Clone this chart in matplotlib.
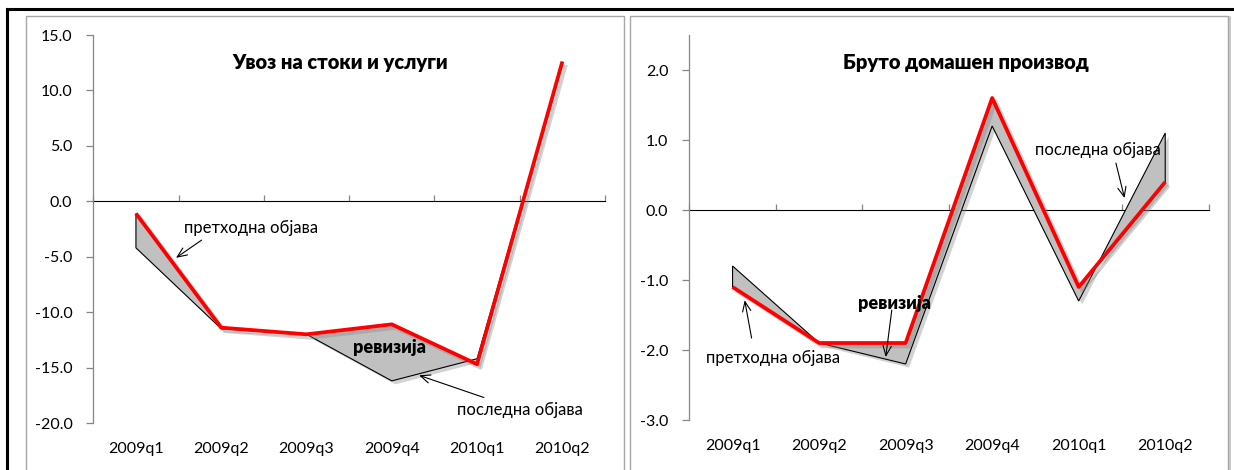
import numpy as np
import matplotlib
matplotlib.use("Agg")
import matplotlib.pyplot as plt
from matplotlib import patheffects as pe
from matplotlib.patches import Rectangle
from matplotlib.lines import Line2D

plt.rcParams['font.family'] = ['Lato', 'DejaVu Sans']

quarters = ['2009q1', '2009q2', '2009q3', '2009q4', '2010q1', '2010q2']

# Imports of goods and services
imports_previous = [-1.1, -11.4, -12.0, -11.1, -14.7, 12.6]
imports_latest = [-4.2, -11.5, -12.0, -16.2, -14.2, 12.6]

# Gross domestic product
gdp_previous = [-1.1, -1.9, -1.9, 1.6, -1.1, 0.4]
gdp_latest = [-0.8, -1.9, -2.2, 1.2, -1.3, 1.1]

W, H = 1234, 470
fig = plt.figure(figsize=(W / 100, H / 100), dpi=100)

GRAY = '#868686'
FILL = '#C0C0C0'


def fx(px):
    return px / W


def fy(py):
    return 1 - py / H


# outer frame and panel borders
fig.add_artist(Line2D([fx(7), fx(7)], [fy(9), fy(475)], color='black', lw=2.2))
fig.add_artist(Line2D([fx(7), fx(1240)], [fy(9), fy(9)], color='black', lw=2.2))
for x0, x1 in [(26, 624), (630, 1228)]:
    fig.add_artist(Rectangle((fx(x0), fy(480)), fx(x1 - x0), fy(16) - fy(480),
                             fill=False, edgecolor='#A6A6A6', lw=1.0))
fig.add_artist(Line2D([fx(1229.5), fx(1229.5)], [fy(17), fy(475)], color='#BFBFBF', lw=1.2))


def panel(rect, prev, latest, ylim, step, title, title_xy, notes):
    ax = fig.add_axes(rect)
    x = np.arange(1, len(quarters) + 1)
    ymin, ymax = ylim
    ax.set_xlim(0.5, len(quarters) + 0.5)
    ax.set_ylim(ymin, ymax)
    ax.patch.set_alpha(0)

    for s in ['top', 'right', 'bottom']:
        ax.spines[s].set_visible(False)
    ax.spines['left'].set_color(GRAY)
    ax.spines['left'].set_linewidth(0.9)

    ax.set_yticks(np.arange(np.ceil(ymin / step) * step, ymax + 1e-9, step))
    ax.yaxis.set_major_formatter(plt.FormatStrFormatter('%.1f'))
    ax.tick_params(axis='y', direction='out', length=5, width=0.9, color=GRAY,
                   pad=10, labelsize=11.5, labelcolor='black')

    ax.set_xticks(x)
    ax.set_xticklabels(quarters)
    ax.tick_params(axis='x', length=0, pad=14, labelsize=11.5, labelcolor='black')

    # category axis drawn through zero
    zero = ax.secondary_xaxis((0 - ymin) / (ymax - ymin))
    zero.set_xticks(np.arange(0.5, len(quarters) + 0.6, 1.0))
    zero.set_xticklabels([])
    zero.spines['bottom'].set_color(GRAY)
    zero.spines['bottom'].set_linewidth(0.9)
    zero.tick_params(axis='x', direction='out', length=4, width=0.9, color=GRAY)

    # revision band between the two releases
    ax.fill(np.r_[x, x[::-1]], np.r_[latest, prev[::-1]], facecolor=FILL,
            edgecolor='black', lw=0.8, zorder=3,
            path_effects=[pe.SimplePatchShadow(offset=(2.5, -2.5), shadow_rgbFace='#808080', alpha=0.35),
                          pe.Normal()])
    ax.plot(x, prev, color='#FF0000', lw=2.7, zorder=4, solid_capstyle='butt',
            path_effects=[pe.SimpleLineShadow(offset=(2.5, -2.5), shadow_color='#808080', alpha=0.35),
                          pe.Normal()])

    fig.text(fx(title_xy[0]), fy(title_xy[1]), title, ha='center', va='center',
             fontsize=14.5, fontweight='heavy')

    for text, xy, bold, arrow in notes:
        ax.text(xy[0], xy[1], text, ha='center', va='center',
                fontsize=13 if bold else 12,
                fontweight='heavy' if bold else 'normal', zorder=6)
        if arrow is not None:
            ax.annotate('', xy=arrow[1], xytext=arrow[0],
                        arrowprops=dict(arrowstyle='->,head_length=0.7,head_width=0.3',
                                        lw=0.8, color='black', shrinkA=0, shrinkB=0),
                        zorder=6)
    return ax


panel([fx(93.3), fy(423), fx(605 - 93.3), fy(35) - fy(423)],
      imports_previous, imports_latest, (-20, 15), 5,
      'Увоз на стоки и услуги', (340, 63),
      [('претходна објава', (2.35, -2.4), False, ((1.77, -3.5), (1.47, -5.1))),
       ('ревизија', (3.97, -13.2), True, None),
       ('последна објава', (5.50, -18.8), False, ((5.08, -17.7), (4.32, -15.7)))])

panel([fx(689.3), fy(420), fx(1208.5 - 689.3), fy(35) - fy(420)],
      gdp_previous, gdp_latest, (-3.0, 2.5), 1.0,
      'Бруто домашен производ', (966, 62),
      [('последна објава', (5.22, 0.86), False, ((5.43, 0.67), (5.53, 0.17))),
       ('ревизија', (2.87, -1.33), True, ((2.84, -1.43), (2.77, -2.1))),
       ('претходна објава', (1.47, -2.11), False, ((1.22, -1.83), (1.14, -1.29)))])

fig.savefig('out.png', dpi=100)
